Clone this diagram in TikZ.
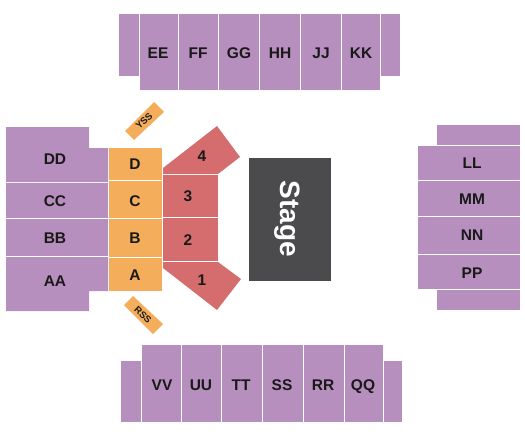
\documentclass[tikz,border=0pt]{standalone}
\usepackage{fontspec}
\setmainfont{Liberation Sans}
\definecolor{seatpurple}{HTML}{B78FBE}
\definecolor{seatorange}{HTML}{F4AD5B}
\definecolor{seatred}{HTML}{D56D6E}
\definecolor{stagegray}{HTML}{4B4A4C}
\tikzset{
    seatlabel/.style={inner sep=0pt, text depth=0pt, text=black!90, font=\bfseries\fontsize{15.5}{15.5}\selectfont},
    smalllabel/.style={inner sep=0pt, text depth=0pt, text=black!90, font=\bfseries\fontsize{9.5}{9.5}\selectfont},
}
\begin{document}
\begin{tikzpicture}[x=1pt, y=-1pt]
        \useasboundingbox (0, 0) rectangle (525, 436);
        % top
        \fill[seatpurple] (119, 14) rectangle (139, 76);
        \fill[seatpurple] (140, 14) rectangle (178, 90);
        \fill[seatpurple] (179, 14) rectangle (218, 90);
        \fill[seatpurple] (219, 14) rectangle (259, 90);
        \fill[seatpurple] (260, 14) rectangle (300, 90);
        \fill[seatpurple] (301, 14) rectangle (341, 90);
        \fill[seatpurple] (342, 14) rectangle (380, 90);
        \fill[seatpurple] (381, 14) rectangle (400, 76);
        \node[seatlabel] (EE) at (158, 53) {EE};
        \node[seatlabel] (FF) at (198, 53) {FF};
        \node[seatlabel] (GG) at (239, 53) {GG};
        \node[seatlabel] (HH) at (280, 53) {HH};
        \node[seatlabel] (JJ) at (321, 53) {JJ};
        \node[seatlabel] (KK) at (361, 53) {KK};
        % bottom
        \fill[seatpurple] (121, 361) rectangle (141, 422);
        \fill[seatpurple] (142, 345) rectangle (181, 422);
        \fill[seatpurple] (182, 345) rectangle (221, 422);
        \fill[seatpurple] (222, 345) rectangle (262, 422);
        \fill[seatpurple] (263, 345) rectangle (303, 422);
        \fill[seatpurple] (304, 345) rectangle (344, 422);
        \fill[seatpurple] (345, 345) rectangle (383, 422);
        \fill[seatpurple] (384, 361) rectangle (402, 422);
        \node[seatlabel] (VV) at (162, 385) {VV};
        \node[seatlabel] (UU) at (201, 385) {UU};
        \node[seatlabel] (TT) at (241, 385) {TT};
        \node[seatlabel] (SS) at (282, 385) {SS};
        \node[seatlabel] (RR) at (323, 385) {RR};
        \node[seatlabel] (QQ) at (363, 385) {QQ};
        % left
        \fill[seatpurple] (6, 127) -- (89, 127) -- (89, 148) -- (108, 148) -- (108, 182) -- (6, 182) -- cycle;
        \fill[seatpurple] (6, 183) rectangle (108, 218);
        \fill[seatpurple] (6, 219) rectangle (108, 256);
        \fill[seatpurple] (6, 257) -- (108, 257) -- (108, 291) -- (89, 291) -- (89, 311) -- (6, 311) -- cycle;
        \node[seatlabel] (DD) at (55, 159) {DD};
        \node[seatlabel] (CC) at (55, 201) {CC};
        \node[seatlabel] (BB) at (55, 238) {BB};
        \node[seatlabel] (AA) at (55, 281) {AA};
        % right
        \fill[seatpurple] (437, 125) rectangle (520, 145);
        \fill[seatpurple] (418, 146) rectangle (520, 180);
        \fill[seatpurple] (418, 181) rectangle (520, 216);
        \fill[seatpurple] (418, 217) rectangle (520, 254);
        \fill[seatpurple] (418, 255) rectangle (520, 289);
        \fill[seatpurple] (437, 290) rectangle (520, 310);
        \node[seatlabel] (LL) at (472, 163) {LL};
        \node[seatlabel] (MM) at (472, 199) {MM};
        \node[seatlabel] (NN) at (472, 235) {NN};
        \node[seatlabel] (PP) at (472, 273) {PP};
        % orange
        \fill[seatorange] (109, 148) rectangle (162, 180);
        \fill[seatorange] (109, 181) rectangle (162, 218);
        \fill[seatorange] (109, 219) rectangle (162, 257);
        \fill[seatorange] (109, 258) rectangle (162, 291);
        \node[seatlabel] (D) at (135, 164) {D};
        \node[seatlabel] (C) at (135, 201) {C};
        \node[seatlabel] (B) at (135, 238) {B};
        \node[seatlabel] (A) at (135, 275) {A};
        \fill[seatorange] (154, 102) -- (164, 112) -- (134, 140) -- (125, 131) -- cycle;
        \fill[seatorange] (133, 296) -- (163, 324) -- (153, 334) -- (124, 305) -- cycle;
        \node[smalllabel, rotate=43] (YSS) at (144, 121) {YSS};
        \node[smalllabel, rotate=-43] (RSS) at (143, 315) {RSS};
        % red
        \fill[seatred] (163, 168) -- (217, 126) -- (240, 157) -- (218, 174) -- (163, 174) -- cycle;
        \fill[seatred] (163, 175) rectangle (218, 217);
        \fill[seatred] (163, 218) rectangle (218, 261);
        \fill[seatred] (163, 262) -- (218, 262) -- (241, 279) -- (217, 310) -- (163, 268) -- cycle;
        \node[seatlabel] (4) at (202, 156) {4};
        \node[seatlabel] (3) at (188, 196) {3};
        \node[seatlabel] (2) at (188, 240) {2};
        \node[seatlabel] (1) at (202, 280) {1};
        % stage
        \fill[stagegray] (249, 158) rectangle (331, 281);
        \node[rotate=-90, inner sep=0pt, text=white, font=\bfseries\fontsize{28}{28}\selectfont] (stage) at (287, 219) {Stage};
    \end{tikzpicture}
\end{document}
